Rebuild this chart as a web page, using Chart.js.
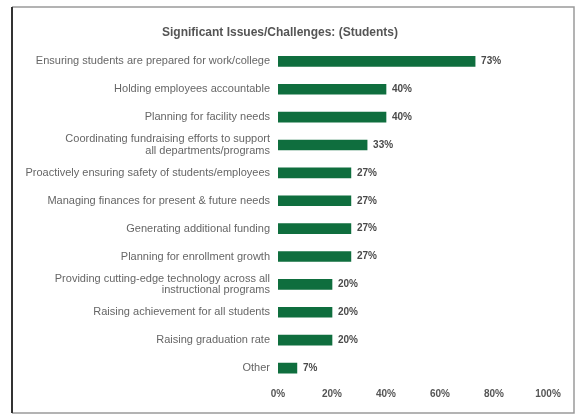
<!DOCTYPE html>
<html>
<head>
<meta charset="utf-8">
<script src="https://cdn.jsdelivr.net/npm/chart.js@4"></script>
<style>
  html, body { margin: 0; padding: 0; background: #fff; }
  #wrap { width: 579px; height: 418px; position: relative; }
</style>
</head>
<body>
<div id="wrap"><canvas id="c" width="579" height="418"></canvas></div>
<script>
const categories = [
  "Ensuring students are prepared for work/college",
  "Holding employees accountable",
  "Planning for facility needs",
  ["Coordinating fundraising efforts to support", "all departments/programs"],
  "Proactively ensuring safety of students/employees",
  "Managing finances for present & future needs",
  "Generating additional funding",
  "Planning for enrollment growth",
  ["Providing cutting-edge technology across all", "instructional programs"],
  "Raising achievement for all students",
  "Raising graduation rate",
  "Other"
];
const values = [73, 40, 40, 33, 27, 27, 27, 27, 20, 20, 20, 7];
const xTicks = [0, 20, 40, 60, 80, 100];
const titleText = "Significant Issues/Challenges: (Students)";

const framePlugin = {
  id: 'frame',
  beforeDraw(chart) {
    const ctx = chart.ctx;
    ctx.save();
    ctx.fillStyle = '#fff';
    ctx.fillRect(0, 0, chart.width, chart.height);
    ctx.strokeStyle = '#9a9a9a';
    ctx.lineWidth = 1.5;
    ctx.beginPath();
    ctx.moveTo(12, 7); ctx.lineTo(574, 7); ctx.lineTo(574, 413); ctx.lineTo(12, 413);
    ctx.stroke();
    ctx.strokeStyle = '#333';
    ctx.lineWidth = 2;
    ctx.beginPath();
    ctx.moveTo(12, 7); ctx.lineTo(12, 413);
    ctx.stroke();
    ctx.restore();
  }
};

const valueLabels = {
  id: 'valueLabels',
  afterDatasetsDraw(chart) {
    const ctx = chart.ctx;
    const meta = chart.getDatasetMeta(0);
    ctx.save();
    ctx.font = 'bold 10px "Liberation Sans", Arial, sans-serif';
    ctx.fillStyle = '#4a4a4a';
    ctx.textBaseline = 'middle';
    ctx.textAlign = 'left';
    meta.data.forEach((bar, i) => {
      ctx.fillText(values[i] + '%', bar.x + 6, bar.y);
    });
    ctx.restore();
  }
};

new Chart(document.getElementById('c'), {
  type: 'bar',
  data: {
    labels: categories,
    datasets: [{
      data: values,
      backgroundColor: '#0f6e3e',
      borderWidth: 0,
      barThickness: 10
    }]
  },
  options: {
    indexAxis: 'y',
    responsive: false,
    animation: false,
    layout: { padding: { left: 12, right: 31, top: 0, bottom: 18 } },
    plugins: {
      legend: { display: false },
      tooltip: { enabled: false },
      title: {
        display: true,
        text: titleText,
        color: '#555',
        font: { family: '"Liberation Sans", Arial, sans-serif', size: 12, weight: 'bold' },
        padding: { top: 25, bottom: 8 }
      }
    },
    scales: {
      x: {
        min: 0, max: 100,
        afterBuildTicks(scale) { scale.ticks = xTicks.map(v => ({ value: v })); },
        afterFit(scale) { scale.height = 18; },
        grid: { display: false, drawTicks: false },
        border: { display: false },
        ticks: {
          padding: 6,
          color: '#555',
          font: { family: '"Liberation Sans", Arial, sans-serif', size: 10, weight: 'bold' },
          callback: v => v + '%',
          maxRotation: 0
        }
      },
      y: {
        afterFit(scale) { scale.width = 266; },
        grid: { display: false, drawTicks: false },
        border: { display: false },
        ticks: {
          padding: 8,
          color: '#666',
          font: { family: '"Liberation Sans", Arial, sans-serif', size: 11, lineHeight: 1.05 },
          autoSkip: false
        }
      }
    }
  },
  plugins: [framePlugin, valueLabels]
});
</script>
</body>
</html>
